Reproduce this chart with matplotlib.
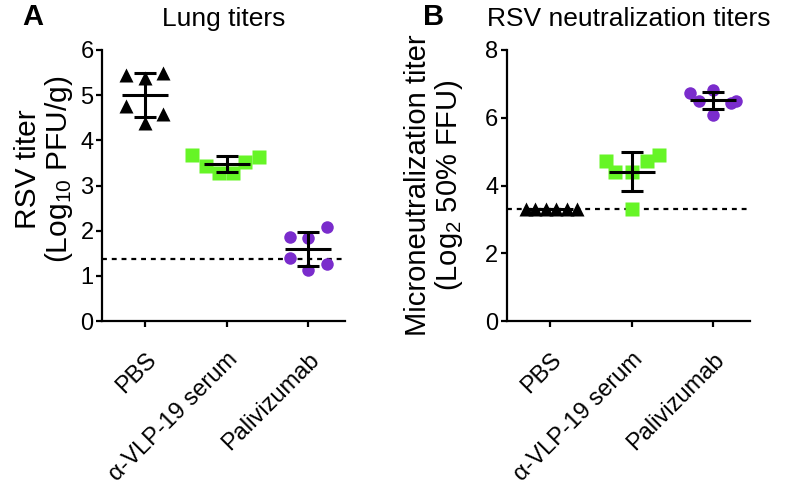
import numpy as np
import matplotlib
matplotlib.use('Agg')
import matplotlib.pyplot as plt
from matplotlib.transforms import ScaledTranslation

plt.rcParams['font.family'] = ['Liberation Sans', 'DejaVu Sans']
plt.rcParams['mathtext.fontset'] = 'custom'
plt.rcParams['mathtext.rm'] = 'Liberation Sans'
plt.rcParams['mathtext.it'] = 'Liberation Sans:italic'

# %% data
groups = ['PBS', 'α-VLP-19 serum', 'Palivizumab']

lung_pbs = [5.45, 5.37, 5.49, 4.75, 4.38, 4.58]
lung_vlp = [3.67, 3.43, 3.27, 3.27, 3.53, 3.64]
lung_pal = [1.86, 1.83, 2.08, 1.40, 1.14, 1.27]
lung_lod = 1.38

neut_pbs = [3.32, 3.32, 3.32, 3.32, 3.32, 3.32]
neut_vlp = [4.73, 4.39, 4.39, 4.71, 4.91, 3.31]
neut_pal = [6.74, 6.82, 6.48, 6.45, 6.50, 6.09]
neut_lod = 3.30

# %% layout (x jitter of the points within each column)
jit_a = [[-0.23, 0.0, 0.22, -0.24, 0.0, 0.22],
         [-0.42, -0.26, -0.09, 0.08, 0.23, 0.39],
         [-0.23, 0.0, 0.23, -0.23, 0.0, 0.23]]
jit_b = [[-0.30, -0.18, -0.05, 0.07, 0.21, 0.33],
         [-0.31, -0.20, 0.0, 0.19, 0.33, 0.0],
         [-0.28, 0.0, -0.17, 0.21, 0.28, 0.0]]

styles = [dict(marker='^', color='black', ms=9.5),
          dict(marker='s', color='#66f526', ms=10),
          dict(marker='o', color='#7a2ccc', ms=9)]

fig = plt.figure(figsize=(7.98, 5.03), dpi=100)
axA = fig.add_axes([0.1278, 0.3618, 0.3045, 0.5388])
axB = fig.add_axes([0.635, 0.3618, 0.305, 0.5388])


def panel(ax, data, jit, lod, ylim, yticks):
    for i, (vals, st) in enumerate(zip(data, styles)):
        xs = i + np.array(jit[i])
        ax.plot(xs, vals, ls='none', marker=st['marker'], color=st['color'],
                ms=st['ms'], mec='none', zorder=3)
        m = np.mean(vals)
        sd = np.std(vals, ddof=1)
        ax.hlines(m, i - 0.28, i + 0.28, color='k', lw=2.2, zorder=4)
        ax.errorbar(i, m, yerr=sd, color='k', lw=2.2, capsize=8,
                    capthick=2.2, zorder=4)
    ax.axhline(lod, color='k', lw=1.6, ls=(0, (2.2, 2.2)), zorder=2)
    ax.set_xlim(-0.53, 2.45)
    ax.set_ylim(*ylim)
    ax.set_yticks(yticks)
    ax.set_xticks(range(len(groups)))
    ax.set_xticklabels(groups, rotation=45, ha='right', va='center',
                       rotation_mode='anchor', fontsize=18.5)
    for s in ['top', 'right']:
        ax.spines[s].set_visible(False)
    for s in ['left', 'bottom']:
        ax.spines[s].set_linewidth(1.6)
    ax.tick_params(width=1.6, length=4.5, labelsize=17, pad=1.5)
    ax.tick_params(axis='x', pad=0)
    off = ScaledTranslation(0.08, -0.29, fig.dpi_scale_trans)
    for lab in ax.get_xticklabels():
        lab.set_transform(lab.get_transform() + off)


panel(axA, [lung_pbs, lung_vlp, lung_pal], jit_a, lung_lod, (0, 6), range(0, 7))
panel(axB, [neut_pbs, neut_vlp, neut_pal], jit_b, neut_lod, (0, 8), range(0, 9, 2))

axA.set_ylabel('RSV titer\n(Log$_{10}$ PFU/g)', fontsize=21.5, linespacing=1.05)
axB.set_ylabel('Microneutralization titer\n(Log$_{2}$ 50% FFU)', fontsize=21,
               linespacing=1.05)
axA.yaxis.set_label_coords(-0.11, 0.56)
axB.yaxis.set_label_coords(-0.17, 0.5)

axA.set_title('Lung titers', fontsize=19, pad=17)
axB.set_title('RSV neutralization titers', fontsize=19, pad=17)
fig.text(0.041, 0.995, 'A', fontsize=21, fontweight='bold', va='top', ha='center')
fig.text(0.543, 0.995, 'B', fontsize=21, fontweight='bold', va='top', ha='center')

fig.savefig('out.png', dpi=100)
